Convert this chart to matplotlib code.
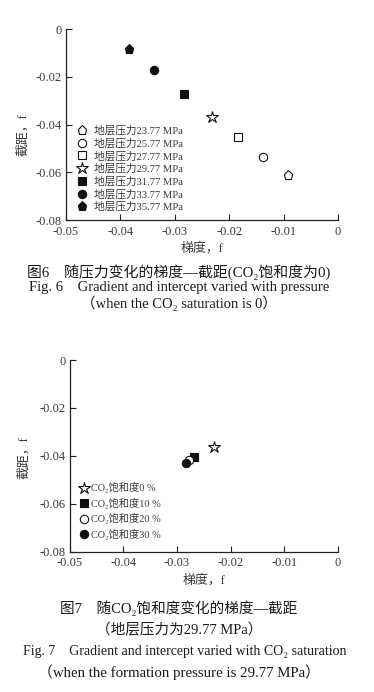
import matplotlib
matplotlib.use("Agg")
import matplotlib.pyplot as plt
from matplotlib.ticker import FuncFormatter

plt.rcParams["font.family"] = ["Liberation Serif", "DejaVu Serif", "Noto Sans CJK SC"]
plt.rcParams["axes.unicode_minus"] = False

# Fig. 6: gradient vs intercept at different formation pressures (CO2 sat = 0)
pressures = ["23.77", "25.77", "27.77", "29.77", "31.77", "33.77", "35.77"]
grad6 = [-0.0091, -0.0137, -0.0183, -0.0232, -0.0283, -0.0338, -0.0384]
icpt6 = [-0.0613, -0.0535, -0.0454, -0.0369, -0.0272, -0.0172, -0.0084]

# Fig. 7: gradient vs intercept at different CO2 saturations (29.77 MPa)
saturations = ["0", "10", "20", "30"]
grad7 = [-0.0231, -0.0268, -0.0278, -0.0283]
icpt7 = [-0.0361, -0.0405, -0.0417, -0.0429]

xticks = [-0.05, -0.04, -0.03, -0.02, -0.01, 0]
yticks = [-0.08, -0.06, -0.04, -0.02, 0]

# marker styles (shape, filled?)
style6 = [("p", False), ("o", False), ("s", False), ("*", False),
          ("s", True), ("o", True), ("p", True)]
style7 = [("*", False), ("s", True), ("o", False), ("o", True)]
msize = {"p": 6.5, "o": 6.0, "s": 5.8, "*": 9.0}

AX_TXT = "#3a3a3a"
CAP_TXT = "#1a1a1a"


def fmt(v, _pos=None):
    return "0" if abs(v) < 1e-12 else f"{v:.2f}"


def setup_axes(ax):
    ax.set_xlim(-0.05, 0)
    ax.set_ylim(-0.08, 0)
    ax.set_xticks(xticks)
    ax.set_yticks(yticks)
    ax.xaxis.set_major_formatter(FuncFormatter(fmt))
    ax.yaxis.set_major_formatter(FuncFormatter(fmt))
    for s in ("top", "right"):
        ax.spines[s].set_visible(False)
    for s in ("left", "bottom"):
        ax.spines[s].set_linewidth(0.9)
        ax.spines[s].set_color("#222222")
    ax.tick_params(direction="in", length=4, width=0.8, colors="#222222",
                   labelsize=9, labelcolor=AX_TXT)
    ax.tick_params(axis="x", pad=4)
    ax.tick_params(axis="y", pad=3)
    ax.set_xlabel("梯度，f", fontsize=9.3, color=AX_TXT, labelpad=3)
    ax.set_ylabel("截距，f", fontsize=9.3, color=AX_TXT)


def scatter(ax, xs, ys, styles, labels):
    handles = []
    for x, y, (m, filled), lab in zip(xs, ys, styles, labels):
        face = "#111111" if filled else "white"
        h, = ax.plot([x], [y], ls="none", marker=m, ms=msize[m],
                     mfc=face, mec="#111111", mew=0.8, label=lab)
        handles.append(h)
    return handles


fig = plt.figure(figsize=(3.74, 6.92), dpi=100)

ax1 = fig.add_axes([0.1765, 0.682, 0.727, 0.276])
setup_axes(ax1)
ax1.yaxis.set_label_coords(-0.135, 0.45)
h1 = scatter(ax1, grad6, icpt6, style6, [f"地层压力{p} MPa" for p in pressures])
ax1.legend(handles=h1, loc="lower left", bbox_to_anchor=(0.025, 0.02),
           frameon=False, fontsize=7.7, handlelength=1.0, handletextpad=0.55,
           labelspacing=0.22, borderaxespad=0, labelcolor=AX_TXT)

ax2 = fig.add_axes([0.187, 0.2027, 0.716, 0.277])
setup_axes(ax2)
ax2.yaxis.set_label_coords(-0.15, 0.49)
h2 = scatter(ax2, grad7, icpt7, style7, [f"CO₂饱和度{s} %" for s in saturations])
ax2.legend(handles=h2, loc="lower left", bbox_to_anchor=(0.02, 0.04),
           frameon=False, fontsize=7.4, handlelength=0.8, handletextpad=0.3,
           labelspacing=0.45, borderaxespad=0, labelcolor=AX_TXT)


# captions
def cap(y_px, text, size=10.5, x=0.479):
    fig.text(x, 1 - y_px / 692, text, ha="center", va="center",
             fontsize=size, color=CAP_TXT)


cap(272, "图6　随压力变化的梯度—截距(CO₂饱和度为0)", 10.7)
cap(287, "Fig. 6　Gradient and intercept varied with pressure")
cap(303, "（when the CO₂ saturation is 0）")
cap(608, "图7　随CO₂饱和度变化的梯度—截距")
cap(630, "（地层压力为29.77 MPa）")
cap(651, "Fig. 7　Gradient and intercept varied with CO₂ saturation", 10, x=0.495)
cap(672, "（when the formation pressure is 29.77 MPa）", 10.7)

fig.savefig("out.png", dpi=100)
plt.close(fig)
